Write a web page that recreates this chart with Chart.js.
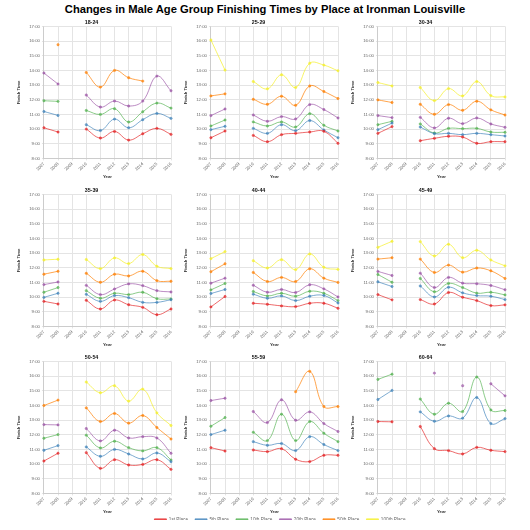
<!DOCTYPE html>
<html>
<head>
<meta charset="utf-8">
<script src="https://cdn.jsdelivr.net/npm/chart.js@4.4.0/dist/chart.umd.min.js"></script>
<style>
  html, body { margin: 0; padding: 0; background: #fff; width: 530px; height: 530px; overflow: hidden; }
  #title { position: absolute; left: 0; top: 3px; width: 530px; text-align: center;
           font: bold 11.2px 'Liberation Sans', Arial, sans-serif; color: #000; white-space: nowrap; }
  .panel { position: absolute; width: 167px; height: 160px; }
  #legendBox { position: absolute; left: 30px; top: 510px; width: 500px; height: 20px; }
</style>
</head>
<body>
<div id="title">Changes in Male Age Group Finishing Times by Place at Ironman Louisville</div>
<div id="grid"></div>
<div id="legendBox"><canvas id="legend"></canvas></div>
<script>
// years on the x axis (2009 has no race data)
const years = ['2007', '2008', '2009', '2010', '2011', '2012', '2013', '2014', '2015', '2016'];
const places = ['1st Place', '5th Place', '10th Place', '20th Place', '50th Place', '100th Place'];
const groupNames = ['18-24', '25-29', '30-34', '35-39', '40-44', '45-49', '50-54', '55-59', '60-64'];

// finish times in hours, rows = places (1st, 5th, 10th, 20th, 50th, 100th)
const g18_24 = [
  [10.09, 9.80, null, 10.00, 9.39, 9.84, 9.25, 9.68, 10.05, 9.64],
  [11.20, 10.93, null, 10.30, 9.90, 10.68, 10.09, 10.64, 11.07, 10.73],
  [11.93, 11.89, null, 11.27, 11.00, 11.39, 10.48, 11.18, 11.77, 11.43],
  [13.82, 13.07, null, 12.32, 11.50, 11.91, 11.57, 11.91, 13.61, 12.61],
  [null, 15.75, null, 13.86, 12.86, 14.00, 13.50, 13.27, null, null],
  [null, null, null, null, null, null, null, null, null, null]
];
const g25_29 = [
  [9.41, 9.87, null, 9.57, 9.14, 9.62, 9.71, 9.80, 9.85, 9.03],
  [9.96, 10.19, null, 10.05, 9.71, 10.30, 9.89, 10.58, 9.94, 9.41],
  [10.21, 10.62, null, 10.49, 10.21, 10.49, 10.14, 11.05, 10.26, 9.87],
  [10.92, 11.37, null, 10.96, 10.53, 10.85, 10.69, 11.67, 11.33, 10.76],
  [12.26, 12.40, null, 12.03, 11.69, 12.24, 11.62, 12.94, 12.56, 12.08],
  [16.07, 14.02, null, 13.24, 12.74, 13.70, 12.83, 14.49, 14.36, 13.97]
];
const g30_34 = [
  [9.71, 10.17, null, 9.21, 9.37, 9.51, 9.46, 9.03, 9.14, 9.14],
  [9.96, 10.41, null, 10.14, 9.69, 9.71, 9.62, 9.71, 9.62, 9.53],
  [10.30, 10.53, null, 10.35, 9.73, 10.05, 10.03, 10.05, 9.80, 9.78],
  [10.92, 10.78, null, 10.80, 10.08, 10.74, 10.37, 10.76, 10.35, 10.12],
  [11.99, 11.81, null, 11.69, 11.01, 11.67, 11.28, 11.90, 11.31, 10.96],
  [13.17, 12.94, null, 12.83, 11.94, 12.76, 12.26, 13.24, 12.28, 12.19]
];
const g35_39 = [
  [9.71, 9.53, null, 9.78, 9.19, 9.80, 9.48, 9.30, 8.80, 9.19],
  [9.98, 10.26, null, 10.19, 9.71, 10.10, 9.96, 9.64, 9.64, 9.82],
  [10.33, 10.65, null, 10.44, 9.92, 10.26, 10.17, 10.33, 9.89, 9.87],
  [10.85, 11.03, null, 10.80, 10.17, 10.55, 10.90, 10.78, 10.44, 10.35],
  [11.56, 11.76, null, 11.62, 11.01, 11.56, 11.44, 11.76, 11.12, 11.08],
  [12.53, 12.58, null, 12.56, 11.94, 12.67, 12.28, 12.90, 12.10, 11.94]
];
const g40_44 = [
  [9.33, 10.04, null, 9.58, 9.51, 9.40, 9.35, 9.58, 9.58, 9.24],
  [10.24, 10.52, null, 10.20, 9.92, 10.08, 9.76, 10.06, 10.11, 9.60],
  [10.49, 10.93, null, 10.38, 10.08, 10.26, 10.06, 10.40, 10.26, 9.76],
  [10.95, 11.29, null, 10.81, 10.33, 10.52, 10.31, 10.84, 10.56, 10.01],
  [11.73, 12.27, null, 11.68, 11.06, 11.34, 11.06, 11.93, 11.29, 11.00],
  [12.62, 13.10, null, 12.48, 11.98, 12.55, 11.87, 12.94, 12.03, 11.89]
];
const g45_49 = [
  [10.17, 9.81, null, 9.83, 9.53, 10.31, 9.99, 9.76, 9.42, 9.47],
  [11.04, 10.72, null, 10.76, 10.01, 10.67, 10.29, 10.10, 10.06, 9.83],
  [11.54, 11.01, null, 11.27, 10.36, 10.93, 10.65, 10.27, 10.33, 10.15],
  [11.75, 11.47, null, 11.63, 10.65, 11.34, 10.95, 10.91, 10.79, 10.50],
  [12.59, 12.68, null, 12.59, 11.68, 12.18, 11.70, 11.98, 11.79, 11.27],
  [13.39, 13.80, null, 13.78, 12.80, 13.60, 12.68, 13.19, 12.53, 12.13]
];
const g50_54 = [
  [10.21, 10.74, null, 10.78, 9.71, 10.30, 9.94, 9.98, 10.30, 9.64],
  [10.94, 11.26, null, 11.17, 10.53, 11.00, 10.69, 10.35, 10.76, 10.16],
  [11.76, 12.01, null, 11.97, 11.10, 11.56, 11.12, 10.90, 11.12, 10.28],
  [12.69, 12.67, null, 12.42, 11.58, 12.31, 11.78, 11.87, 11.78, 10.74],
  [13.99, 14.36, null, 13.83, 12.90, 13.45, 12.79, 13.31, 12.49, 11.71],
  [null, null, null, 15.59, 14.86, 15.34, 14.29, 15.11, 13.49, 12.63]
];
const g55_59 = [
  [11.12, 10.89, null, 10.96, 10.85, 11.05, 10.33, 10.17, 10.60, 10.60],
  [12.01, 12.31, null, 11.53, 11.28, 11.40, 10.92, 11.87, 11.33, 10.92],
  [12.58, 13.17, null, 12.17, 11.60, 13.40, 11.60, 12.90, 12.10, 11.53],
  [14.33, 14.49, null, 13.58, 12.83, 14.38, 12.99, 13.56, 12.76, 12.22],
  [null, null, null, null, null, null, 14.93, 16.32, 13.92, 13.92],
  [null, null, null, null, null, null, null, null, null, null]
];
const g60_64 = [
  [12.90, 12.88, null, 12.56, 11.05, 10.92, 10.69, 11.14, 10.94, 10.85],
  [14.40, 15.02, null, 13.56, 12.92, 13.28, 13.13, 14.54, 12.76, 13.10],
  [15.77, 16.13, null, 14.43, 13.40, 14.15, 13.58, 15.93, 13.69, 13.65],
  [null, null, null, null, 16.20, null, 15.34, null, 15.47, 14.65],
  [null, null, null, null, null, null, null, null, null, null],
  [null, null, null, null, null, null, null, null, null, null]
];
const groups = [g18_24, g25_29, g30_34, g35_39, g40_44, g45_49, g50_54, g55_59, g60_64];

const colors = [
  'rgba(228, 26, 28, 0.65)',
  'rgba(55, 126, 184, 0.65)',
  'rgba(77, 175, 74, 0.65)',
  'rgba(152, 78, 163, 0.65)',
  'rgba(255, 127, 0, 0.7)',
  'rgba(245, 240, 40, 0.7)'
];

Chart.defaults.font.family = "'Liberation Sans', Arial, sans-serif";
Chart.defaults.color = '#666';

function makeDatasets(rows) {
  return places.map(function (p, i) {
    return {
      label: p,
      data: rows[i],
      borderColor: colors[i],
      backgroundColor: colors[i],
      borderWidth: 1,
      pointRadius: 1.2,
      pointBorderWidth: 0.6,
      tension: 0.4,
      spanGaps: false,
      fill: false
    };
  });
}

var grid = document.getElementById('grid');
groups.forEach(function (rows, k) {
  var col = k % 3, row = Math.floor(k / 3);
  var box = document.createElement('div');
  box.className = 'panel';
  box.style.left = (12 + col * 167) + 'px';
  box.style.top = (19 + row * 167.5) + 'px';
  var cv = document.createElement('canvas');
  box.appendChild(cv);
  grid.appendChild(box);

  new Chart(cv, {
    type: 'line',
    data: { labels: years, datasets: makeDatasets(rows) },
    options: {
      animation: false,
      responsive: true,
      maintainAspectRatio: false,
      layout: { padding: { left: 0, right: 8, top: 0, bottom: 0 } },
      plugins: {
        legend: { display: false },
        tooltip: { enabled: false },
        title: {
          display: true,
          text: groupNames[k],
          color: '#111',
          font: { size: 5.3, weight: 'bold' },
          padding: { top: 0, bottom: 1 }
        }
      },
      scales: {
        x: {
          offset: false,
          grid: { color: '#e4e4e4', tickLength: 2 },
          ticks: { font: { size: 4.3 }, minRotation: 45, maxRotation: 45, padding: 1, autoSkip: false },
          title: { display: true, text: 'Year', color: '#333', font: { size: 4.3, weight: 'bold' }, padding: { top: 1, bottom: 0 } }
        },
        y: {
          min: 8,
          max: 17,
          grid: { color: '#e4e4e4', tickLength: 2 },
          ticks: { stepSize: 1, font: { size: 4.3 }, padding: 2, callback: function (v) { return v + ':00'; } },
          title: { display: true, text: 'Finish Time', color: '#333', font: { size: 4.3, weight: 'bold' }, padding: { top: 4, bottom: 6 } }
        }
      }
    }
  });
});

// shared legend drawn by its own chart with hidden axes
new Chart(document.getElementById('legend'), {
  type: 'line',
  data: { labels: [], datasets: makeDatasets(groups[0]).map(function (d) { d.data = []; return d; }) },
  options: {
    animation: false,
    responsive: true,
    maintainAspectRatio: false,
    plugins: {
      tooltip: { enabled: false },
      legend: {
        position: 'top',
        labels: { boxWidth: 12, boxHeight: 1, padding: 7, font: { size: 4.7 }, color: '#666' }
      }
    },
    scales: { x: { display: false }, y: { display: false } }
  }
});
</script>
</body>
</html>
